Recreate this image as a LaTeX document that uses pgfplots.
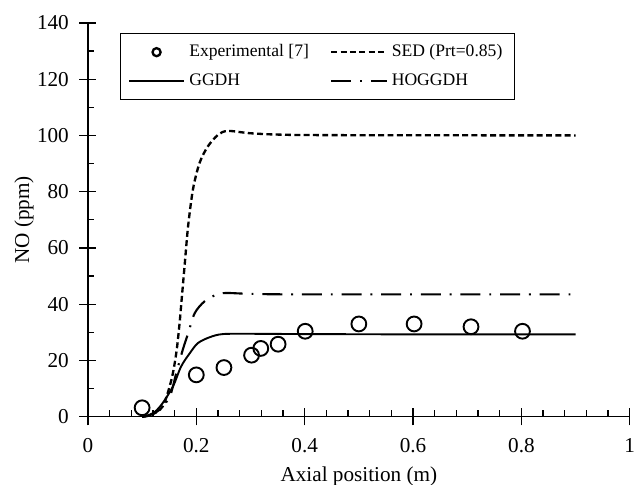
\documentclass[border=0pt]{standalone}
\usepackage{fontspec}
\setmainfont{Liberation Serif}
\usepackage{pgfplots}
\pgfplotsset{compat=1.18}

% experimental points
\pgfplotstableread{
x y
0.100 3.2
0.200 14.9
0.251 17.5
0.302 21.9
0.319 24.3
0.351 25.8
0.401 30.4
0.500 33.0
0.602 33.0
0.707 32.0
0.802 30.4
}\exper

\begin{document}
\begin{tikzpicture}
\begin{axis}[
    scale only axis,
    width=255.7pt, height=185.9pt,
    xmin=0, xmax=1, ymin=0, ymax=140,
    axis x line*=bottom, axis y line*=left,
    axis line style={-, line width=0.6pt},
    xtick={0,0.2,...,1}, ytick={0,20,...,140},
    minor x tick num=4, minor y tick num=1,
    tick align=center,
    major tick length=8pt, minor tick length=3pt,
    tick style={line width=0.6pt, black},
    minor x tick style={yshift=1.5pt},
    minor y tick style={xshift=1.5pt},
    /pgf/number format/assume math mode=true,
    xticklabel style={yshift=-2.8pt},
    yticklabel style={xshift=-1.5pt},
    xlabel={Axial position (m)},
    ylabel={NO (ppm)},
    xlabel style={at={(axis description cs:0.5,-0.152)}, anchor=center},
    ylabel style={at={(axis description cs:-0.118,0.5)}, anchor=center},
    legend columns=2,
    legend cell align=left,
    legend style={at={(rel axis cs:0.059,0.975)}, anchor=north west,
        draw=black, line width=0.5pt,
        font=\fontsize{8.3}{10}\selectfont,
        inner xsep=3.6pt, inner ysep=3.3pt,
        row sep=2.6pt,
        /tikz/every even column/.append style={column sep=8pt}},
    legend image code/.code={\draw[mark repeat=2, mark phase=2, #1]
        plot coordinates {(0pt,0pt) (13pt,0pt) (26pt,0pt)};},
    clip=false,
]
\addplot[only marks, mark=o, mark size=3.5pt, line width=0.9pt,
    legend image post style={mark size=1.9pt, line width=1.1pt}]
    table {\exper};
\addlegendentry{Experimental [7]}

\addplot[smooth, line width=1.1pt, dash pattern=on 2.8pt off 1.6pt] coordinates {
(0.1,0) (0.117,0.7) (0.138,3.7) (0.154,13.1) (0.163,22.6) (0.169,33)
(0.174,44) (0.179,55) (0.185,68) (0.194,81) (0.206,90.2) (0.221,96)
(0.240,100.2) (0.258,101.6) (0.298,100.8) (0.35,100.3) (0.45,100.1) (0.9,100)
};
\addlegendentry{SED (Prt=0.85)}

\addplot[smooth, line width=0.9pt] coordinates {
(0.1,0) (0.114,0.7) (0.125,2) (0.138,4.9) (0.157,10.8) (0.172,17.9)
(0.188,22.6) (0.203,26.2) (0.225,28.3) (0.249,29.4) (0.3,29.5) (0.4,29.4)
(0.6,29.3) (0.9,29.3)
};
\addlegendentry{GGDH}

\addplot[smooth, line width=1pt, dash pattern=on 9.4pt off 4.2pt on 0.9pt off 4.2pt] coordinates {
(0.1,0) (0.115,0.7) (0.132,2.5) (0.151,7.2) (0.163,15.5) (0.175,23.8)
(0.185,29.7) (0.197,36.8) (0.215,41) (0.237,43.4) (0.255,44) (0.3,43.7)
(0.4,43.5) (0.9,43.5)
};
\addlegendentry{HOGGDH}
\end{axis}
\pgfresetboundingbox
\path[use as bounding box] ([shift={(-41.5pt,-32pt)}]current axis.south west)
    rectangle ([shift={(2pt,10.8pt)}]current axis.north east);
\end{tikzpicture}
\end{document}
